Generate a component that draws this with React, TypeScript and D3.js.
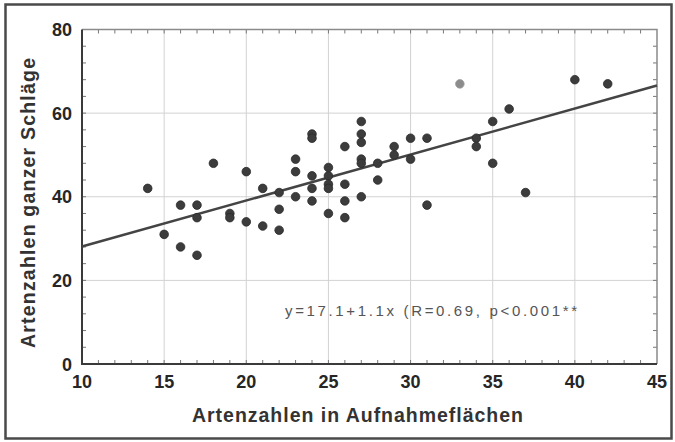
// App.tsx
import React, { useEffect, useRef } from 'react';
import * as d3 from 'd3';

// species counts in the plots (x) and in the whole clear-cuts (y)
const plotCounts = [
  14, 15, 16, 16, 17, 17, 17, 18, 19, 19, 20, 20, 21, 21, 22, 22, 22,
  23, 23, 23, 24, 24, 24, 24, 24, 25, 25, 25, 25, 25, 26, 26, 26, 26,
  27, 27, 27, 27, 27, 27, 28, 28, 29, 29, 30, 30, 31, 31, 33, 34, 34,
  35, 35, 36, 37, 40, 42,
];
const cutCounts = [
  42, 31, 38, 28, 38, 35, 26, 48, 36, 35, 46, 34, 42, 33, 41, 37, 32,
  49, 46, 40, 55, 54, 45, 42, 39, 47, 45, 43, 42, 36, 52, 43, 39, 35,
  58, 55, 53, 49, 48, 40, 48, 44, 52, 50, 54, 49, 54, 38, 67, 54, 52,
  58, 48, 61, 41, 68, 67,
];
// the one point that is drawn lighter
const lightIndex = [48];

const xTicks = [10, 15, 20, 25, 30, 35, 40, 45];
const yTicks = [0, 20, 40, 60, 80];
const intercept = 17.1;
const slope = 1.1;
const equationLabel = 'y=17.1+1.1x (R=0.69, p<0.001**';
const xTitle = 'Artenzahlen in Aufnahmeflächen';
const yTitle = 'Artenzahlen ganzer Schläge';

const App = () => {
  const svgRef = useRef<SVGSVGElement>(null);

  useEffect(() => {
    const svg = d3.select(svgRef.current);
    svg.selectAll('*').remove();

    const width = 675;
    const height = 442;
    const left = 82;
    const right = 657;
    const top = 29.5;
    const bottom = 364;

    const x = d3.scaleLinear().domain([10, 45]).range([left, right]);
    const y = d3.scaleLinear().domain([0, 80]).range([bottom, top]);

    svg.append('rect')
      .attr('x', 0).attr('y', 0)
      .attr('width', width).attr('height', height)
      .attr('fill', '#fff');

    // outer frame
    svg.append('rect')
      .attr('x', 5.5).attr('y', 4.5)
      .attr('width', 666).attr('height', 434)
      .attr('fill', '#fff')
      .attr('stroke', '#4a4a4a')
      .attr('stroke-width', 2.5);

    // grid
    const grid = svg.append('g').attr('stroke', '#d2d2d2').attr('stroke-width', 1);
    grid.selectAll('.vx')
      .data(xTicks.slice(1, -1))
      .enter().append('line')
      .attr('x1', (d) => x(d)).attr('x2', (d) => x(d))
      .attr('y1', top).attr('y2', bottom);
    grid.selectAll('.hy')
      .data(yTicks.slice(1, -1))
      .enter().append('line')
      .attr('x1', left).attr('x2', right)
      .attr('y1', (d) => y(d)).attr('y2', (d) => y(d));

    // minor ticks, pointing inward on all four sides
    const minorX = d3.range(11, 45, 1);
    const minorY = d3.range(4, 80, 4);
    const ticks = svg.append('g').attr('stroke', '#777').attr('stroke-width', 1);
    minorX.forEach((v) => {
      ticks.append('line').attr('x1', x(v)).attr('x2', x(v)).attr('y1', bottom).attr('y2', bottom - 4);
      ticks.append('line').attr('x1', x(v)).attr('x2', x(v)).attr('y1', top).attr('y2', top + 4);
    });
    minorY.forEach((v) => {
      ticks.append('line').attr('x1', left).attr('x2', left + 4).attr('y1', y(v)).attr('y2', y(v));
      ticks.append('line').attr('x1', right).attr('x2', right - 4).attr('y1', y(v)).attr('y2', y(v));
    });

    // plot border: light top/right, dark axes left/bottom
    svg.append('path')
      .attr('d', `M${left},${top}H${right}V${bottom}`)
      .attr('fill', 'none')
      .attr('stroke', '#8a8a8a')
      .attr('stroke-width', 1.5);
    svg.append('path')
      .attr('d', `M${left},${top}V${bottom}H${right}`)
      .attr('fill', 'none')
      .attr('stroke', '#3a3a3a')
      .attr('stroke-width', 2);

    // tick labels
    svg.append('g')
      .selectAll('text')
      .data(xTicks)
      .enter().append('text')
      .attr('x', (d) => x(d))
      .attr('y', 388)
      .attr('text-anchor', 'middle')
      .attr('font-family', 'Liberation Sans, Arial, sans-serif')
      .attr('font-weight', 'bold')
      .attr('font-size', 18)
      .attr('fill', '#262626')
      .text((d) => d);
    svg.append('g')
      .selectAll('text')
      .data(yTicks)
      .enter().append('text')
      .attr('x', 72)
      .attr('y', (d) => y(d) + 6.5)
      .attr('text-anchor', 'end')
      .attr('font-family', 'Liberation Sans, Arial, sans-serif')
      .attr('font-weight', 'bold')
      .attr('font-size', 18)
      .attr('fill', '#262626')
      .text((d) => d);

    // axis titles
    svg.append('text')
      .attr('x', 192)
      .attr('y', 421.5)
      .attr('textLength', 331)
      .attr('lengthAdjust', 'spacing')
      .attr('font-family', 'Liberation Sans, Arial, sans-serif')
      .attr('font-weight', 'bold')
      .attr('font-size', 19.5)
      .attr('fill', '#333')
      .text(xTitle);
    svg.append('text')
      .attr('transform', 'translate(35,348) rotate(-90)')
      .attr('textLength', 290)
      .attr('lengthAdjust', 'spacing')
      .attr('font-family', 'Liberation Sans, Arial, sans-serif')
      .attr('font-weight', 'bold')
      .attr('font-size', 19.5)
      .attr('fill', '#333')
      .text(yTitle);

    // regression line
    const [x0, x1] = x.domain();
    svg.append('line')
      .attr('x1', x(x0)).attr('y1', y(intercept + slope * x0))
      .attr('x2', x(x1)).attr('y2', y(intercept + slope * x1))
      .attr('stroke', '#444')
      .attr('stroke-width', 2.5);

    // points
    svg.append('g')
      .selectAll('circle')
      .data(plotCounts.map((d, i) => ({ px: d, py: cutCounts[i], light: lightIndex.includes(i) })))
      .enter().append('circle')
      .attr('cx', (d) => x(d.px))
      .attr('cy', (d) => y(d.py))
      .attr('r', 4.3)
      .attr('fill', (d) => (d.light ? '#8c8c8c' : '#3c3c3c'))
      .attr('stroke', (d) => (d.light ? '#9a9a9a' : '#2a2a2a'))
      .attr('stroke-width', 0.8);

    // equation
    svg.append('text')
      .attr('x', 285)
      .attr('y', 316)
      .attr('textLength', 292)
      .attr('lengthAdjust', 'spacing')
      .attr('font-family', 'Liberation Sans, Arial, sans-serif')
      .attr('font-size', 15)
      .attr('fill', '#555')
      .text(equationLabel);
  }, []);

  return (
    <svg
      ref={svgRef}
      width={675}
      height={442}
      style={{ position: 'absolute', left: 0, top: 0 }}
    ></svg>
  );
};

export default App;
